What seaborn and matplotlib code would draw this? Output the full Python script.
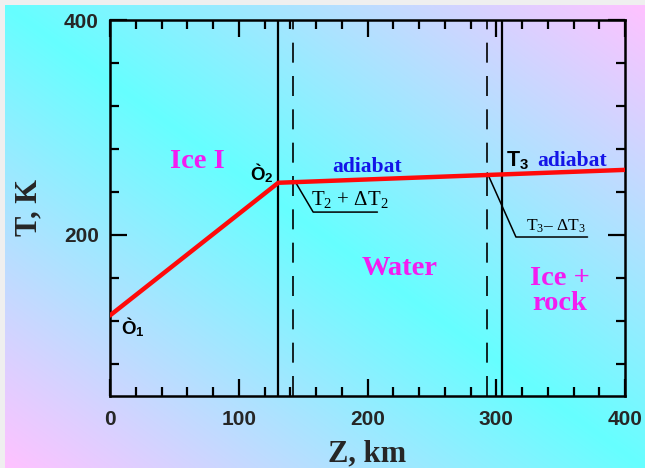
import numpy as np
import pandas as pd
import matplotlib
matplotlib.use("Agg")
import matplotlib.pyplot as plt
import seaborn as sns

# ---- data ----
z_profile = [0, 130.7, 400]          # depth, km
T_profile = [125.0, 248.5, 260.5]    # temperature, K
solid_bounds = [130.7, 304.5]
dashed_bounds = [142.5, 293.0]
x_major = [0, 100, 200, 300, 400]
y_major = [200, 400]
x_minor = list(range(0, 401, 20))
y_minor = [80, 120, 160, 240, 280, 320, 360]

sns.set_style("ticks")
plt.rcParams['mathtext.fontset'] = 'custom'
plt.rcParams['mathtext.rm'] = 'Liberation Serif'
plt.rcParams['mathtext.it'] = 'Liberation Serif'
plt.rcParams['mathtext.bf'] = 'Liberation Serif:bold'
plt.rcParams['mathtext.sf'] = 'Liberation Sans:bold'

fig = plt.figure(figsize=(6.45, 4.68), dpi=100)
fig.patch.set_facecolor('#EFEFEF')

# gradient background
bg = fig.add_axes([5/645, 0, 1 - 5/645, 1 - 5/468])
W, H = 300, 220
xx = np.linspace(0, 1, W)[None, :]
yy = np.linspace(0, 1, H)[:, None]
t = np.abs(xx - yy)
cyan = np.array([0.40, 1.0, 1.0])
pink = np.array([1.0, 0.76, 1.0])
img = (1 - t)[..., None] * cyan + t[..., None] * pink
bg.imshow(img, extent=[0, 1, 0, 1], aspect='auto', interpolation='bilinear')
bg.axis('off')

ax = fig.add_axes([110/645, 1 - 396/468, 515/645, 376/468])
ax.set_zorder(2)
ax.patch.set_alpha(0)

df = pd.DataFrame({"Z": z_profile, "T": T_profile})
sns.lineplot(data=df, x="Z", y="T", ax=ax, color='#FF0A0A', lw=3.2, zorder=5)

for b in solid_bounds:
    ax.axvline(b, color='black', lw=1.6, zorder=3)
for b in dashed_bounds:
    ax.axvline(b, color='black', lw=1.2, ls=(0, (12, 8)), zorder=3)

ax.set_xlim(0, 400)
ax.set_ylim(50, 400)
ax.set_xticks(x_major)
ax.set_xticks(x_minor, minor=True)
ax.set_yticks(y_major)
ax.set_yticks(y_minor, minor=True)

tick_font = dict(family='Liberation Sans', weight='bold', size=15)
ax.set_xticklabels([str(v) for v in x_major], fontdict=tick_font)
ax.set_yticklabels([str(v) for v in y_major], fontdict=tick_font)
ax.tick_params(which='both', direction='in', top=True, right=True, width=1.6, color='black')
ax.tick_params(which='major', length=12)
ax.tick_params(which='minor', length=6.5)
ax.tick_params(axis='x', which='major', pad=10)
ax.tick_params(axis='y', which='major', pad=8)
for s in ax.spines.values():
    s.set_linewidth(1.8)
    s.set_color('black')

ax.set_xlabel("Z, km", fontdict=dict(family='Liberation Serif', weight='bold', size=22))
ax.xaxis.set_label_coords(0.5, -0.115)
ax.set_ylabel("T, K", fontdict=dict(family='Liberation Serif', weight='bold', size=22))
ax.yaxis.set_label_coords(-0.13, 0.5)

mag = '#F21CF0'
blue = '#1414E8'
serif_b = dict(family='Liberation Serif', weight='bold')
ax.text(67.7, 268, "Ice I", color=mag, ha='center', va='center', size=20.5, **serif_b)
ax.text(225, 169, "Water", color=mag, ha='center', va='center', size=20.5, **serif_b)
ax.text(349.5, 148, "Ice +\nrock", color=mag, ha='center', va='center', size=20.5,
        linespacing=1.0, **serif_b)
ax.text(199.7, 263.5, "adiabat", color=blue, ha='center', va='center', size=15.5, **serif_b)
ax.text(358.5, 268.5, "adiabat", color=blue, ha='center', va='center', size=15.5, **serif_b)

sans_b = dict(family='Liberation Sans', weight='bold')
ax.text(109, 250.5, r"Ò$_\mathsf{2}$", color='black', ha='left', va='baseline', size=13.5, **sans_b)
ax.text(8.5, 107.5, r"Ò$_\mathsf{1}$", color='black', ha='left', va='baseline', size=13.5, **sans_b)
ax.text(307.5, 264.5, r"T$_\mathsf{3}$", color='black', ha='left', va='baseline', size=15.5, **sans_b)

# leader annotations
ax.plot([143.8, 157.8, 207.7], [249.6, 221.2, 221.2], color='black', lw=1.1, zorder=4)
ax.text(186, 222.8, r"T$_2$ + $\Delta$T$_2$", color='black', ha='center', va='bottom',
        size=15, family='Liberation Serif')
ax.plot([293.0, 315.3, 370.9], [257.7, 198.0, 198.0], color='black', lw=1.1, zorder=4)
ax.text(346, 199.5, r"T$_3$– $\Delta$T$_3$", color='black', ha='center', va='bottom',
        size=12.5, family='Liberation Serif')

fig.savefig("out.png", dpi=100, facecolor=fig.get_facecolor())
